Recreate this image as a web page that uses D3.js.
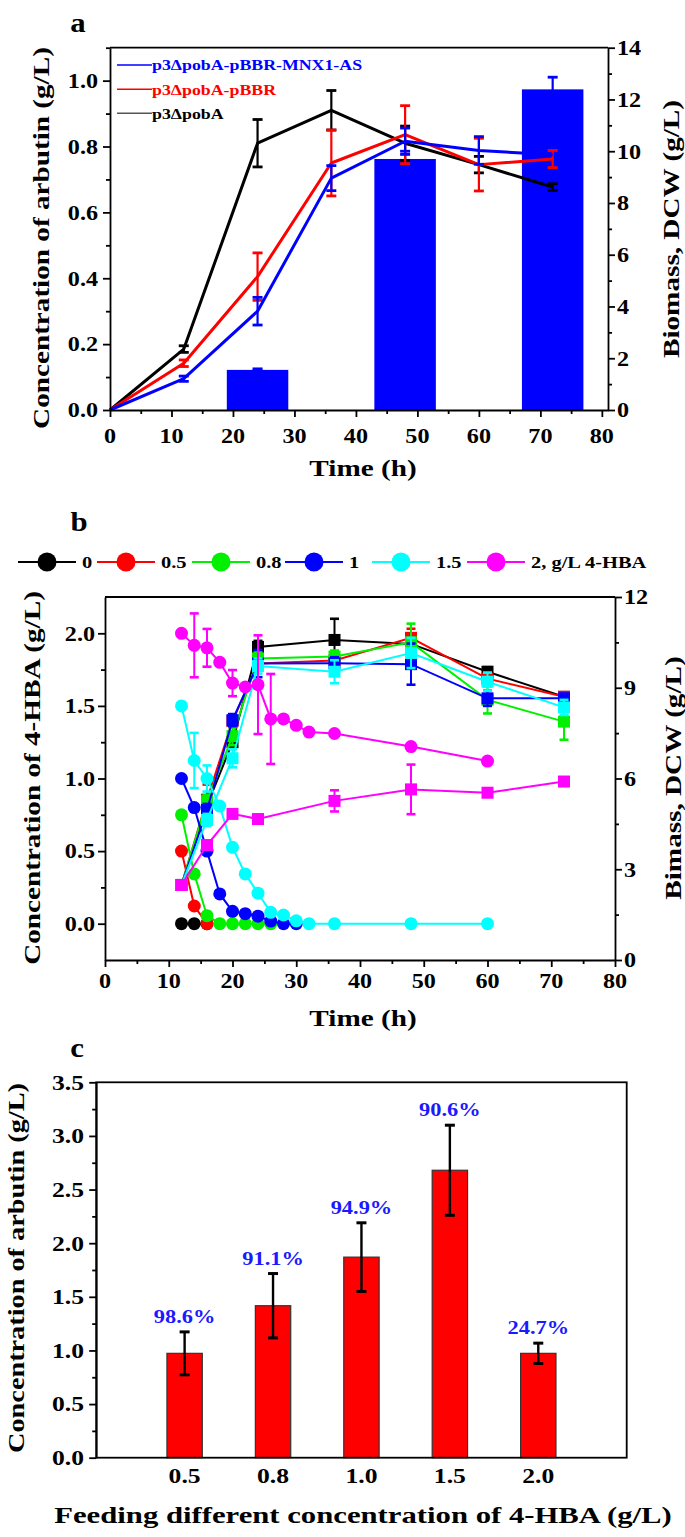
<!DOCTYPE html>
<html><head><meta charset="utf-8">
<script src="https://cdn.jsdelivr.net/npm/d3@7"></script>
<style>
body{margin:0;background:#fff;}
svg{display:block;}
text{font-family:"Liberation Serif","Times New Roman",serif;font-weight:bold;}
</style></head><body>
<svg id="chart" width="685" height="1537"></svg>
<script>
// ---------------- Panel a data ----------------
const timeA = [0, 12, 24, 36, 48, 60, 72];
const arbPobA = [0, 0.185, 0.81, 0.91, 0.81, 0.745, 0.677];
const arbPobAErr = [0, 0.01, 0.072, 0.06, 0.052, 0.025, 0.01];
const arbPBBR = [0, 0.142, 0.405, 0.75, 0.836, 0.745, 0.762];
const arbPBBRErr = [0, 0.01, 0.072, 0.1, 0.088, 0.08, 0.026];
const arbMNX1 = [0, 0.095, 0.30, 0.704, 0.816, 0.788, 0.775];
const arbMNX1Err = [0, 0.008, 0.042, 0.038, 0.04, 0.042, 0];
const biomassTimeA = [24, 48, 72];
const biomassA = [1.55, 9.7, 12.39];
const biomassAErr = [0.04, 0.3, 0.47];
const legendA = ["p3\u0394pobA-pBBR-MNX1-AS", "p3\u0394pobA-pBBR", "p3\u0394pobA"];
const xTicksA = [0, 10, 20, 30, 40, 50, 60, 70, 80];
const yTicksA = [0, 0.2, 0.4, 0.6, 0.8, 1.0];
const y2TicksA = [0, 2, 4, 6, 8, 10, 12, 14];

// ---------------- Panel b data ----------------
const hbaLabels = ["0", "0.5", "0.8", "1", "1.5", "2, g/L 4-HBA"];
const hbaT0 = [12, 14, 16];
const hbaV0 = [0, 0, 0];
const hbaT05 = [12, 14, 16];
const hbaV05 = [0.5, 0.122, 0];
const hbaT08 = [12, 14, 16, 18, 20, 22, 24, 26];
const hbaV08 = [0.75, 0.343, 0.055, 0, 0, 0, 0, 0];
const hbaT1 = [12, 14, 16, 18, 20, 22, 24, 26, 28, 30];
const hbaV1 = [1.0, 0.80, 0.50, 0.205, 0.085, 0.069, 0.052, 0.018, 0, 0];
const hbaT15 = [12, 14, 16, 18, 20, 22, 24, 26, 28, 30, 32, 36, 48, 60];
const hbaV15 = [1.5, 1.124, 1.0, 0.81, 0.526, 0.343, 0.21, 0.078, 0.06, 0.02, 0, 0, 0, 0];
const hbaE15 = [0, 0.19, 0.09, 0, 0, 0, 0, 0, 0, 0, 0, 0, 0, 0];
const hbaT2 = [12, 14, 16, 18, 20, 22, 24, 26, 28, 30, 32, 36, 48, 60];
const hbaV2 = [2.0, 1.917, 1.90, 1.80, 1.657, 1.63, 1.646, 1.41, 1.41, 1.366, 1.32, 1.31, 1.22, 1.12];
const hbaE2 = [0, 0.22, 0.13, 0, 0.09, 0, 0.34, 0.31, 0, 0, 0, 0, 0, 0];
const bioT = [12, 16, 20, 24, 36, 48, 60, 72];
const bio0 = [2.48, 5.1, 7.2, 10.35, 10.58, 10.45, 9.53, 8.7];
const bio0Err = [0, 0.2, 0.2, 0.2, 0.7, 0.3, 0.15, 0.15];
const bio05 = [2.48, 5.3, 7.9, 9.8, 9.9, 10.65, 9.3, 8.7];
const bio05Err = [0, 0.5, 0.2, 0.2, 0.2, 0.3, 0.2, 0.15];
const bio08 = [2.48, 5.25, 7.4, 9.97, 10.03, 10.5, 8.6, 7.88];
const bio08Err = [0, 0.2, 0.3, 0.2, 0.2, 0.62, 0.45, 0.6];
const bio1 = [2.48, 4.96, 7.93, 9.8, 9.81, 9.78, 8.65, 8.65];
const bio1Err = [0, 0.2, 0.2, 0.45, 0.2, 0.68, 0.25, 0.15];
const bio15 = [2.48, 4.63, 6.67, 9.72, 9.53, 10.15, 9.2, 8.35];
const bio15Err = [0, 0.2, 0.3, 0.25, 0.38, 0.5, 0.3, 0.25];
const bio2 = [2.48, 3.8, 4.83, 4.66, 5.26, 5.64, 5.53, 5.9];
const bio2Err = [0, 0.1, 0.1, 0.1, 0.35, 0.82, 0.1, 0.1];
const xTicksB = [0, 10, 20, 30, 40, 50, 60, 70, 80];
const yTicksB = [0, 0.5, 1.0, 1.5, 2.0];
const y2TicksB = [0, 3, 6, 9, 12];

// ---------------- Panel c data ----------------
const feedLevels = ["0.5", "0.8", "1.0", "1.5", "2.0"];
const arbutinC = [0.973, 1.417, 1.87, 2.68, 0.973];
const arbutinCErr = [0.20, 0.30, 0.32, 0.42, 0.095];
const conversionC = ["98.6%", "91.1%", "94.9%", "90.6%", "24.7%"];
const yTicksC = [0, 0.5, 1.0, 1.5, 2.0, 2.5, 3.0, 3.5];

// ---------------- helpers ----------------
const svg = d3.select("#chart");
const BLUE = "#0000ff", RED = "#ff0000", GREEN = "#00f000", CYAN = "#00ffff", MAG = "#ff00ff";

function label(g, x, y, str, o = {}) {
  const t = g.append("text")
    .attr("transform", `translate(${x},${y})` + (o.rotate ? ` rotate(${o.rotate})` : "") + ` scale(${o.sx || 1.15},1)`)
    .attr("text-anchor", o.anchor || "start")
    .attr("font-size", o.size || 21)
    .attr("fill", o.fill || "#000")
    .text(str);
  if (o.dy) t.attr("dy", o.dy);
  return t;
}
function styleAxis(sel, keepDomain) {
  sel.selectAll("line").attr("stroke", "#000").attr("stroke-width", 1.8);
  if (keepDomain) sel.select(".domain").attr("stroke", "#000").attr("stroke-width", 1.8);
  else sel.select(".domain").remove();
  sel.selectAll("text").remove();
}
function minorBetween(ticks) {
  const out = [];
  for (let i = 0; i < ticks.length - 1; i++) out.push((ticks[i] + ticks[i + 1]) / 2);
  return out;
}
function errorBars(g, xs, vs, es, xSc, ySc, color, cap, w) {
  xs.forEach((t, i) => {
    const e = es[i];
    if (!e) return;
    const x = xSc(t), y1 = ySc(vs[i] + e), y2 = ySc(vs[i] - e);
    g.append("line").attr("x1", x).attr("x2", x).attr("y1", y1).attr("y2", y2)
      .attr("stroke", color).attr("stroke-width", w);
    [y1, y2].forEach(yy => g.append("line").attr("x1", x - cap / 2).attr("x2", x + cap / 2)
      .attr("y1", yy).attr("y2", yy).attr("stroke", color).attr("stroke-width", w + 0.6));
  });
}

// ================= Panel a =================
(function () {
  const g = svg.append("g");
  const L = 110, R = 608, T = 47.7, B = 410;
  const x = d3.scaleLinear([0, 81], [L, R]);
  const y = d3.scaleLinear([0, 1.1], [B, T]);
  const y2 = d3.scaleLinear([0, 14], [B, T]);

  // bars (biomass)
  g.selectAll("rect.bar").data(biomassTimeA).join("rect")
    .attr("x", d => x(d - 5)).attr("width", d => x(d + 5) - x(d - 5))
    .attr("y", (d, i) => y2(biomassA[i])).attr("height", (d, i) => y2(0) - y2(biomassA[i]))
    .attr("fill", BLUE);
  errorBars(g, biomassTimeA, biomassA, biomassAErr, x, y2, BLUE, 10, 2.2);

  const series = [
    { v: arbPobA, e: arbPobAErr, c: "#000" },
    { v: arbPBBR, e: arbPBBRErr, c: RED },
    { v: arbMNX1, e: arbMNX1Err, c: BLUE }
  ];
  const line = d3.line().x((d, i) => x(timeA[i])).y(d => y(d));
  series.forEach(s => {
    g.append("path").attr("d", line(s.v)).attr("fill", "none")
      .attr("stroke", s.c).attr("stroke-width", 3).attr("stroke-linejoin", "round");
    errorBars(g, timeA, s.v, s.e, x, y, s.c, 10, 2.2);
  });

  // axes
  const ax = g.append("g").attr("transform", `translate(0,${B})`)
    .call(d3.axisBottom(x).tickValues(xTicksA).tickSize(7).tickSizeOuter(0));
  styleAxis(ax, true);
  const axm = g.append("g").attr("transform", `translate(0,${B})`)
    .call(d3.axisBottom(x).tickValues(minorBetween(xTicksA)).tickSize(4));
  styleAxis(axm, false);
  const ay = g.append("g").attr("transform", `translate(${L},0)`)
    .call(d3.axisLeft(y).tickValues(yTicksA).tickSize(7).tickSizeOuter(0));
  styleAxis(ay, true);
  const aym = g.append("g").attr("transform", `translate(${L},0)`)
    .call(d3.axisLeft(y).tickValues(minorBetween(yTicksA).concat([1.1 - 0.0])).tickSize(4));
  styleAxis(aym, false);
  const ay2 = g.append("g").attr("transform", `translate(${R},0)`)
    .call(d3.axisRight(y2).tickValues(y2TicksA).tickSize(7).tickSizeOuter(0));
  styleAxis(ay2, true);
  const ay2m = g.append("g").attr("transform", `translate(${R},0)`)
    .call(d3.axisRight(y2).tickValues(minorBetween(y2TicksA)).tickSize(4));
  styleAxis(ay2m, false);
  g.append("line").attr("x1", L).attr("x2", R).attr("y1", T).attr("y2", T)
    .attr("stroke", "#000").attr("stroke-width", 1.8);

  xTicksA.forEach(t => label(g, x(t), 443, String(t), { anchor: "middle" }));
  yTicksA.forEach(t => label(g, 98, y(t), t.toFixed(1), { anchor: "end", dy: "0.35em" }));
  y2TicksA.forEach(t => label(g, 617, y2(t), String(t), { anchor: "start", dy: "0.35em" }));

  label(g, 78, 32, "a", { anchor: "middle", size: 28, sx: 1.1 });
  label(g, 363, 476, "Time (h)", { anchor: "middle", size: 23, sx: 1.27 });
  label(g, 41, 238, "Concentration of arbutin (g/L)", { anchor: "middle", size: 23, sx: 1.27, rotate: -90, dy: "0.35em" });
  label(g, 671, 229, "Biomass, DCW (g/L)", { anchor: "middle", size: 23, sx: 1.27, rotate: -90, dy: "0.35em" });

  // legend
  const legColors = [BLUE, RED, "#555"];
  const legText = [BLUE, RED, "#000"];
  const legY = [65, 89.3, 113.3];
  legendA.forEach((name, i) => {
    g.append("line").attr("x1", 117).attr("x2", 152).attr("y1", legY[i]).attr("y2", legY[i])
      .attr("stroke", legColors[i]).attr("stroke-width", 1.5);
    label(g, 152, legY[i], name, { size: 15.5, sx: 1.15, fill: legText[i], dy: "0.35em" });
  });
})();

// ================= Panel b =================
(function () {
  const g = svg.append("g");
  const L = 105, R = 615, T = 597, B = 960;
  const x = d3.scaleLinear([0, 80], [L, R]);
  const y = d3.scaleLinear([-0.25, 2.25], [B, T]);
  const y2 = d3.scaleLinear([0, 12], [B, T]);
  const colors = ["#000", RED, GREEN, BLUE, CYAN, MAG];
  const circ = [
    { t: hbaT0, v: hbaV0, e: null },
    { t: hbaT05, v: hbaV05, e: null },
    { t: hbaT08, v: hbaV08, e: null },
    { t: hbaT1, v: hbaV1, e: null },
    { t: hbaT15, v: hbaV15, e: hbaE15 },
    { t: hbaT2, v: hbaV2, e: hbaE2 }
  ];
  const bio = [[bio0, bio0Err], [bio05, bio05Err], [bio08, bio08Err], [bio1, bio1Err], [bio15, bio15Err], [bio2, bio2Err]];

  colors.forEach((c, k) => {
    // biomass squares
    const [bv, be] = bio[k];
    const l2 = d3.line().x((d, i) => x(bioT[i])).y(d => y2(d));
    g.append("path").attr("d", l2(bv)).attr("fill", "none").attr("stroke", c).attr("stroke-width", 2);
    errorBars(g, bioT, bv, be, x, y2, c, 9, 2);
    g.selectAll(null).data(bv).join("rect")
      .attr("x", (d, i) => x(bioT[i]) - 6).attr("y", d => y2(d) - 6)
      .attr("width", 12).attr("height", 12).attr("fill", c);
    // 4-HBA circles
    const s = circ[k];
    const l1 = d3.line().x((d, i) => x(s.t[i])).y(d => y(d));
    g.append("path").attr("d", l1(s.v)).attr("fill", "none").attr("stroke", c).attr("stroke-width", 2);
    if (s.e) errorBars(g, s.t, s.v, s.e, x, y, c, 9, 2);
    g.selectAll(null).data(s.v).join("circle")
      .attr("cx", (d, i) => x(s.t[i])).attr("cy", d => y(d)).attr("r", 6.5).attr("fill", c);
  });

  const ax = g.append("g").attr("transform", `translate(0,${B})`)
    .call(d3.axisBottom(x).tickValues(xTicksB).tickSize(7).tickSizeOuter(0));
  styleAxis(ax, true);
  const axm = g.append("g").attr("transform", `translate(0,${B})`)
    .call(d3.axisBottom(x).tickValues(minorBetween(xTicksB)).tickSize(4));
  styleAxis(axm, false);
  const ay = g.append("g").attr("transform", `translate(${L},0)`)
    .call(d3.axisLeft(y).tickValues(yTicksB).tickSize(7).tickSizeOuter(0));
  styleAxis(ay, true);
  const aym = g.append("g").attr("transform", `translate(${L},0)`)
    .call(d3.axisLeft(y).tickValues([0.25, 0.75, 1.25, 1.75]).tickSize(4));
  styleAxis(aym, false);
  const ay2 = g.append("g").attr("transform", `translate(${R},0)`)
    .call(d3.axisRight(y2).tickValues(y2TicksB).tickSize(7).tickSizeOuter(0));
  styleAxis(ay2, true);
  const ay2m = g.append("g").attr("transform", `translate(${R},0)`)
    .call(d3.axisRight(y2).tickValues(minorBetween(y2TicksB)).tickSize(4));
  styleAxis(ay2m, false);
  g.append("line").attr("x1", L).attr("x2", R).attr("y1", T).attr("y2", T)
    .attr("stroke", "#000").attr("stroke-width", 1.8);

  xTicksB.forEach(t => label(g, x(t), 988, String(t), { anchor: "middle" }));
  yTicksB.forEach(t => label(g, 95, y(t), t.toFixed(1), { anchor: "end", dy: "0.35em" }));
  y2TicksB.forEach(t => label(g, 624, y2(t), String(t), { anchor: "start", dy: "0.35em" }));

  label(g, 79, 531, "b", { anchor: "middle", size: 28, sx: 1.1 });
  label(g, 363, 1026, "Time (h)", { anchor: "middle", size: 23, sx: 1.27 });
  label(g, 32, 778, "Concentration of 4-HBA (g/L)", { anchor: "middle", size: 23, sx: 1.27, rotate: -90, dy: "0.35em" });
  label(g, 673, 778, "Bimass, DCW (g/L)", { anchor: "middle", size: 23, sx: 1.27, rotate: -90, dy: "0.35em" });

  // legend
  const legX = [18, 97, 192, 285, 372, 467];
  hbaLabels.forEach((name, i) => {
    const lx = legX[i];
    g.append("line").attr("x1", lx).attr("x2", lx + 58).attr("y1", 562).attr("y2", 562)
      .attr("stroke", colors[i]).attr("stroke-width", 2);
    g.append("circle").attr("cx", lx + 29).attr("cy", 562).attr("r", 9.5).attr("fill", colors[i]);
    label(g, lx + 64, 562, name, { size: 17.5, sx: 1.17, dy: "0.35em" });
  });
})();

// ================= Panel c =================
(function () {
  const g = svg.append("g");
  const L = 96.2, R = 626.7, T = 1082.3, B = 1457.7;
  const x = d3.scalePoint(feedLevels, [L, R]).padding(1);
  const y = d3.scaleLinear([0, 3.5], [B, T]);
  const bw = x.step() * 0.4;

  g.selectAll("rect.barc").data(arbutinC).join("rect")
    .attr("x", (d, i) => x(feedLevels[i]) - bw / 2).attr("width", bw)
    .attr("y", d => y(d)).attr("height", d => B - y(d))
    .attr("fill", RED).attr("stroke", "#333").attr("stroke-width", 1.2);
  const xs = feedLevels.map((d, i) => i);
  errorBars(g, xs, arbutinC, arbutinCErr, i => x(feedLevels[i]), y, "#000", 10, 2.4);
  conversionC.forEach((s, i) => {
    label(g, x(feedLevels[i]), y(arbutinC[i] + arbutinCErr[i]) - 9, s,
      { anchor: "middle", size: 19.5, sx: 1.15, fill: "#1a1aff" });
  });

  const ay = g.append("g").attr("transform", `translate(${L},0)`)
    .call(d3.axisLeft(y).tickValues(yTicksC).tickSize(7).tickSizeOuter(0));
  styleAxis(ay, true);
  const aym = g.append("g").attr("transform", `translate(${L},0)`)
    .call(d3.axisLeft(y).tickValues(minorBetween(yTicksC)).tickSize(4));
  styleAxis(aym, false);
  g.append("rect").attr("x", L).attr("y", T).attr("width", R - L).attr("height", B - T)
    .attr("fill", "none").attr("stroke", "#000").attr("stroke-width", 1.8);

  yTicksC.forEach(t => label(g, 84, y(t), t.toFixed(1), { anchor: "end", dy: "0.35em", sx: 1.22 }));
  feedLevels.forEach(f => label(g, x(f), 1483, f, { anchor: "middle", sx: 1.22 }));

  label(g, 77, 1057, "c", { anchor: "middle", size: 28, sx: 1.1 });
  label(g, 363, 1523, "Feeding different concentration of 4-HBA (g/L)", { anchor: "middle", size: 24, sx: 1.28 });
  label(g, 16, 1268, "Concentration of arbutin (g/L)", { anchor: "middle", size: 23, sx: 1.23, rotate: -90, dy: "0.35em" });
})();
</script>
</body></html>
